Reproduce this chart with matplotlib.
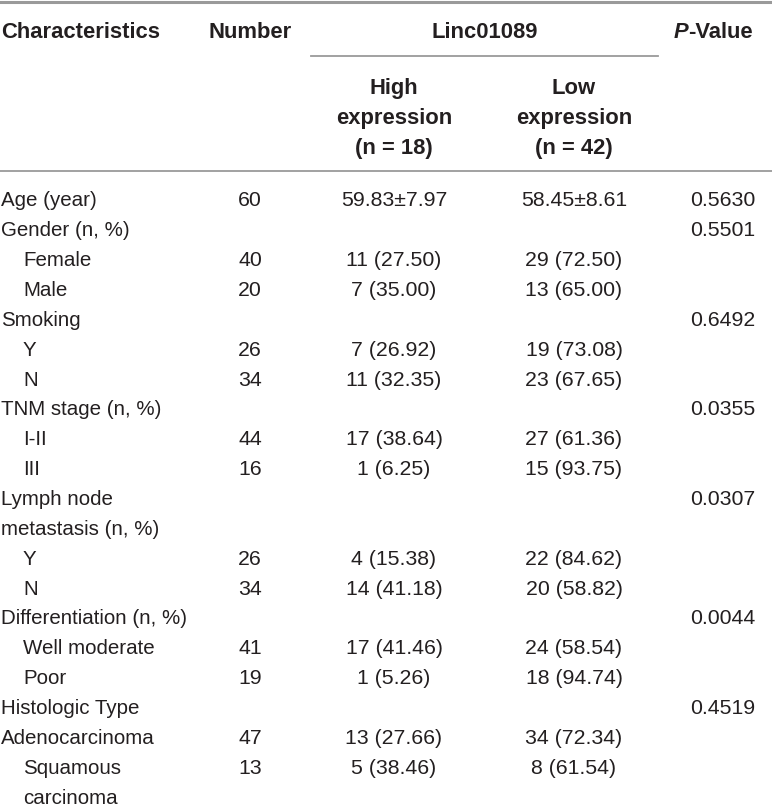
import matplotlib
matplotlib.use("Agg")
import matplotlib.pyplot as plt

# table contents
characteristics = ["Age (year)", "Gender (n, %)", "Female", "Male", "Smoking", "Y", "N",
                   "TNM stage (n, %)", "I-II", "III", "Lymph node", "metastasis (n, %)", "Y", "N",
                   "Differentiation (n, %)", "Well moderate", "Poor", "Histologic Type",
                   "Adenocarcinoma", "Squamous", "carcinoma"]
indented = [0, 0, 1, 1, 0, 1, 1, 0, 1, 1, 0, 0, 1, 1, 0, 1, 1, 0, 0, 1, 1]
number = ["60", "", "40", "20", "", "26", "34", "", "44", "16", "", "", "26", "34", "",
          "41", "19", "", "47", "13", ""]
high_expr = ["59.83±7.97", "", "11 (27.50)", "7 (35.00)", "", "7 (26.92)", "11 (32.35)", "",
             "17 (38.64)", "1 (6.25)", "", "", "4 (15.38)", "14 (41.18)", "", "17 (41.46)",
             "1 (5.26)", "", "13 (27.66)", "5 (38.46)", ""]
low_expr = ["58.45±8.61", "", "29 (72.50)", "13 (65.00)", "", "19 (73.08)", "23 (67.65)", "",
            "27 (61.36)", "15 (93.75)", "", "", "22 (84.62)", "20 (58.82)", "", "24 (58.54)",
            "18 (94.74)", "", "34 (72.34)", "8 (61.54)", ""]
p_values = ["0.5630", "0.5501", "", "", "0.6492", "", "", "0.0355", "", "", "0.0307", "", "",
            "", "0.0044", "", "", "0.4519", "", "", ""]

plt.rcParams['font.family'] = ['Liberation Sans', 'DejaVu Sans']
fs = 14.8      # body text
fs_num = 15.3  # numeric cells
fs_b = 15.8    # bold header
txt = '#231f20'
line_col = '#9a9a9a'

fig = plt.figure(figsize=(7.72, 8.08), dpi=100)
ax = fig.add_axes([0, 0, 1, 1])
ax.set_xlim(0, 772)
ax.set_ylim(808, 0)
ax.axis('off')

# column centres (pixels)
x_char, x_num, x_high, x_low, x_p = 1, 250, 394, 574, 723

# header
ax.plot([0, 772], [1.5, 1.5], color=line_col, lw=2.2)
ax.text(x_char, 30, "Characteristics", fontsize=fs_b, fontweight='bold', va='center_baseline', color=txt)
ax.text(x_num, 30, "Number", fontsize=fs_b, fontweight='bold', va='center_baseline', ha='center', color=txt)
ax.text(485, 30, "Linc01089", fontsize=fs_b, fontweight='bold', va='center_baseline', ha='center', color=txt)
ax.text(688, 30, "P", fontsize=fs_b, fontweight='bold', style='italic', va='center_baseline', ha='right', color=txt)
ax.text(688, 30, "-Value", fontsize=fs_b, fontweight='bold', va='center_baseline', ha='left', color=txt)
ax.plot([311, 658], [56, 56], color=line_col, lw=1.3)
for x, word in [(x_high, "High"), (x_low, "Low")]:
    ax.text(x, 86, word, fontsize=fs_b, fontweight='bold', va='center_baseline', ha='center', color=txt)
    ax.text(x, 116, "expression", fontsize=fs_b, fontweight='bold', va='center_baseline', ha='center', color=txt)
ax.text(x_high, 146, "(n = 18)", fontsize=fs_b, fontweight='bold', va='center_baseline', ha='center', color=txt)
ax.text(x_low, 146, "(n = 42)", fontsize=fs_b, fontweight='bold', va='center_baseline', ha='center', color=txt)
ax.plot([0, 772], [171, 171], color=line_col, lw=1.3)

# body rows
y0, pitch = 199, 29.85
for i, label in enumerate(characteristics):
    y = y0 + i * pitch
    ax.text(x_char + 22 * indented[i], y, label, fontsize=fs, va='center_baseline', color=txt)
    ax.text(x_num, y, number[i], fontsize=fs_num, va='center_baseline', ha='center', color=txt)
    ax.text(x_high, y, high_expr[i], fontsize=fs_num, va='center_baseline', ha='center', color=txt)
    ax.text(x_low, y, low_expr[i], fontsize=fs_num, va='center_baseline', ha='center', color=txt)
    ax.text(x_p, y, p_values[i], fontsize=fs_num, va='center_baseline', ha='center', color=txt)

fig.savefig("out.png", dpi=100)
